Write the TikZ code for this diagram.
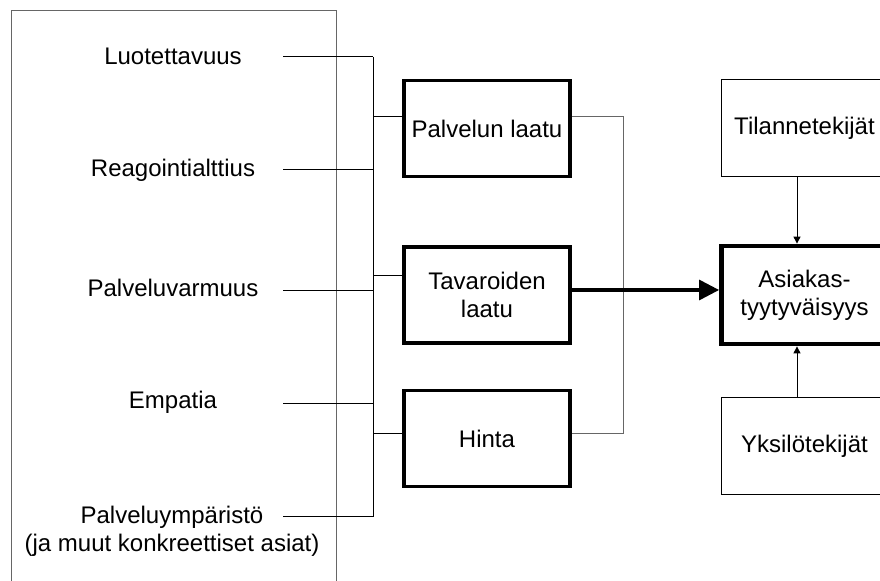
\documentclass[tikz,border=0pt]{standalone}
\usepackage{fontspec}
\setmainfont{Liberation Sans}
\usetikzlibrary{arrows.meta}
\begin{document}
\begin{tikzpicture}[x=0.5pt,y=-0.5pt,
  every node/.style={font=\fontsize{12}{14}\selectfont, inner sep=0pt},
  thin line/.style={line width=0.5pt, draw=black},
  grey line/.style={line width=0.5pt, draw=black!60},
  lbl/.style={align=center},
  factor/.style={draw, line width=1.6pt, minimum width=83pt, minimum height=48pt, align=center},
  side/.style={draw, line width=0.5pt, minimum width=83pt, minimum height=48.5pt, align=center},
  main/.style={draw, line width=2.4pt, minimum width=83pt, minimum height=49pt, align=center}]
\useasboundingbox (0,0) rectangle (880,581);
\clip (0,0) rectangle (880,581);
% big left frame
\draw[grey line] (11,620) -- (11,11) -- (336,11) -- (336,620);
% left labels
\node[lbl] (l1) at (173,56) {Luotettavuus};
\node[lbl] (l2) at (173,170) {Reagointialttius};
\node[lbl] (l3) at (173,288) {Palveluvarmuus};
\node[lbl] (l4) at (173,402) {Empatia};
\node[lbl] (l5) at (172,531) {Palveluympäristö\\(ja muut konkreettiset asiat)};
% line start points
\coordinate (s1) at (283,57);
\coordinate (s2) at (283,170);
\coordinate (s3) at (283,291);
\coordinate (s4) at (283,404);
\coordinate (s5) at (283,517);
\coordinate (b1) at (373,57);
\coordinate (b5) at (373,517);
% factor boxes
\node[factor] (pl) at (487,128.5) {Palvelun laatu};
\node[factor] (tl) at (487,295) {Tavaroiden\\laatu};
\node[factor] (hi) at (487,438.5) {Hinta};
% right boxes
\node[side] (ti) at (804.5,128.5) {Tilannetekijät};
\node[main] (as) at (804.5,295) {Asiakas-\\tyytyväisyys};
\node[side] (yk) at (804.5,446) {Yksilötekijät};
% horizontal feeders
\foreach \i in {1,...,5} { \draw[thin line] (s\i) -- (373,0 |- s\i); }
\draw[thin line] (b1) -- (b5);
\draw[thin line] (373,117) -- (pl.west |- 0,117);
\draw[thin line] (373,276) -- (tl.west |- 0,276);
\draw[thin line] (373,434) -- (hi.west |- 0,434);
% right connector
\draw[grey line] (pl.east |- 0,117) -- (623,117) -- (623,434) -- (hi.east |- 0,434);
% main arrow
\draw[line width=1.6pt, -{Triangle[length=10pt,width=10pt]}] ([yshift=2.5pt]tl.east) -- ([yshift=2.5pt]as.west);
% small arrows
\draw[thin line, -{Triangle[length=3.5pt,width=3.5pt]}] (ti.south -| 797,0) -- (as.north -| 797,0);
\draw[thin line, -{Triangle[length=3.5pt,width=3.5pt]}] (yk.north -| 797,0) -- (as.south -| 797,0);
\end{tikzpicture}
\end{document}
